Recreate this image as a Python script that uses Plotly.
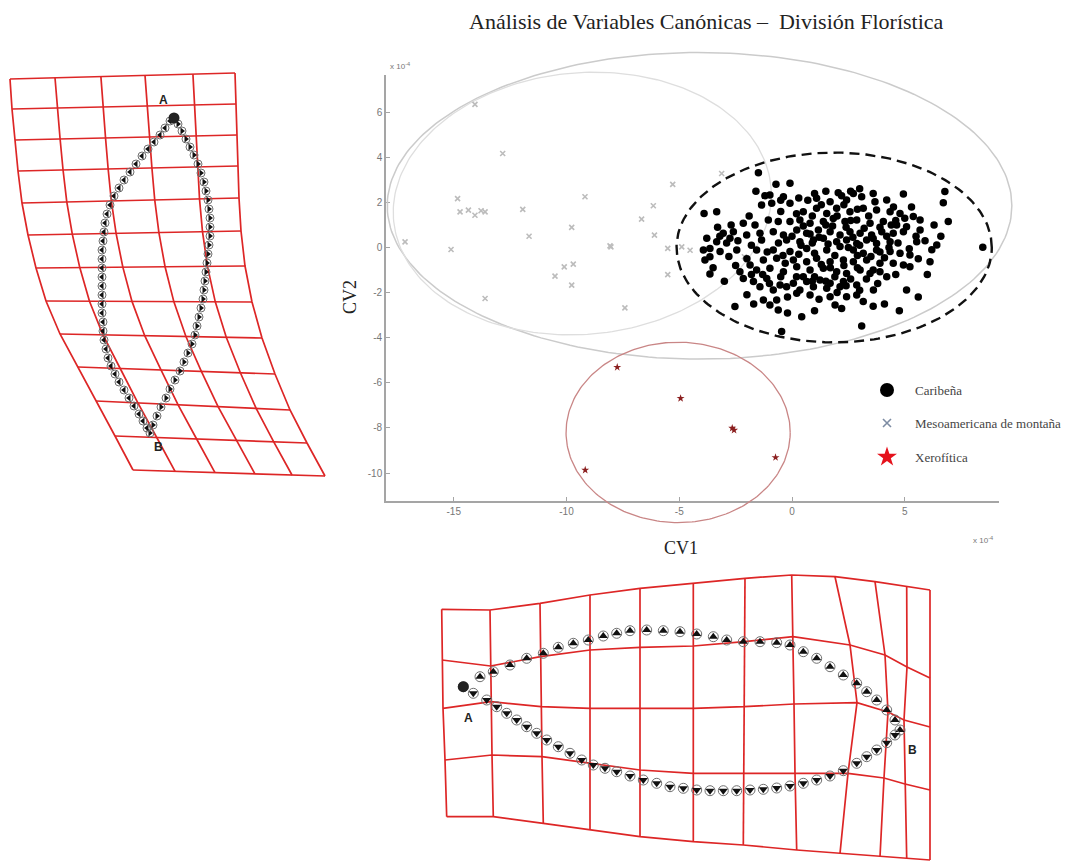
import numpy as np
import plotly.graph_objects as go

W, H = 1072, 863

# ---------------- DATA (CV scores, units of 1e-4) ----------------
carib_x = [-1.49, -0.71, -0.09, -0.98, -0.38, 2.05, 2.72, 4.94, 6.78, 6.71,
           1.09, 1.69, 2.42, 3.09, 3.68, 4.20, -3.90, -3.34, -1.35, -0.90,
           -0.09, 0.50, 1.09, 1.54, 1.98, 2.57, 3.16, 3.75, 4.35, 4.79,
           5.38, 5.68, 6.93, -2.16, -1.64, -1.05, -0.61, -0.09, 0.35, 0.80,
           1.39, 1.83, 2.35, 2.87, 3.46, 4.05, 4.64, 5.08, 5.68, -3.05,
           -2.60, -2.01, -1.42, -0.83, -0.38, 0.21, 0.65, 1.17, 1.69, 2.13,
           2.57, 3.02, 3.53, 3.98, 4.49, 4.94, -3.78, -3.34, -2.75, -1.35,
           -0.24, 0.35, 0.95, 1.39, 1.98, 2.42, 2.87, 3.31, 3.75, 4.35,
           5.53, 6.42, 8.46, -3.93, -3.64, -3.19, -2.45, -1.57, -0.83, -0.09,
           0.65, 1.54, 2.13, 2.72, 3.16, 3.75, 4.35, 4.79, 5.23, 6.12,
           -3.86, -1.86, -1.27, -0.68, 0.06, 0.65, 1.09, 1.69, 2.28, 2.72,
           3.31, 3.90, 4.49, 4.94, 5.23, -3.64, -2.31, -1.57, -0.98, -0.38,
           0.21, 0.80, 1.39, 1.98, 2.42, 3.02, 3.46, 3.90, -2.16, -1.71,
           -1.12, -0.53, 0.06, 0.65, 1.24, 1.69, 2.28, 2.87, -1.42, -0.83,
           -0.24, 0.35, 0.95, 1.54, 2.13, 3.61, 5.08, 0.21, 0.80, 1.69,
           2.42, 2.87, -1.27, -0.68, 3.16, -2.53, -0.98, -0.61, 1.91, 4.76,
           0.43, 3.09, -0.46, -3.64, 0.90, 1.30, 2.30, 2.90, 3.40, 0.20,
           -0.50, -1.90, 1.20, 1.80, 2.40, 2.70, 3.20, 3.90, 0.50, 0.00,
           -0.60, -1.80, -2.80, 1.00, 1.90, 2.30, 2.90, 3.50, 4.10, 1.30,
           0.30, -0.30, -1.30, 0.50, 1.00, 1.90, 2.60, 3.30, 2.00, 1.20,
           -0.20, 4.30, 4.60, 5.50, 2.20, 0.70, 3.60, 1.50, 2.60, -2.70,
           -3.30, 4.20, 4.10, 5.20, -2.00, -3.00, -2.40, -2.90, -3.50, -2.00,
           -1.10, -0.40, 0.40, 0.80, 1.50, 2.00, 2.60, 3.00, 3.60, 4.20,
           4.70, 5.00, 5.90, 6.30, 5.60, 4.60, 3.80, 3.00, 2.40, 1.50,
           0.90, 0.20, -0.50, -1.00, -1.80, -2.50, -3.20, 1.00, 0.30, -0.50,
           -1.20, 3.00, 4.50, 5.30, 6.00, 5.60, 3.60, 2.20, 1.00, -1.70,
           -0.20, 1.60, 2.50, 3.90, 0.90, 1.70, 2.90, 3.60, 4.40, -1.60,
           6.60, 6.20]
carib_y = [3.32, 2.80, 2.85, 2.33, 2.25, 2.43, 2.40, 2.37, 2.48, 1.99,
           2.18, 2.03, 2.11, 2.25, 2.03, 2.11, 1.51, 1.59, 1.88, 1.96,
           1.96, 1.59, 1.74, 1.51, 1.74, 1.59, 1.74, 1.66, 1.59, 1.51,
           1.37, 1.22, 1.15, 1.07, 1.00, 1.22, 1.15, 1.15, 1.22, 1.07,
           1.15, 1.29, 1.15, 1.22, 1.07, 1.15, 1.00, 0.92, 0.78, 0.63,
           0.70, 0.55, 0.63, 0.70, 0.55, 0.78, 0.63, 0.78, 0.70, 0.55,
           0.70, 0.63, 0.55, 0.70, 0.63, 0.70, 0.41, 0.26, 0.41, 0.33,
           0.33, 0.26, 0.33, 0.41, 0.26, 0.33, 0.18, 0.33, 0.18, 0.26,
           0.26, 0.11, 0.01, -0.11, -0.04, -0.18, -0.11, -0.11, -0.11, -0.18,
           -0.04, -0.11, 0.04, -0.11, -0.26, -0.11, -0.18, -0.26, -0.33, -0.63,
           -0.55, -0.78, -0.55, -0.48, -0.55, -0.63, -0.48, -0.63, -0.55, -0.63,
           -0.55, -0.70, -0.70, -0.78, -0.85, -1.18, -1.07, -1.00, -0.92, -1.07,
           -0.85, -1.00, -0.92, -1.07, -1.15, -1.00, -1.15, -1.07, -1.37, -1.51,
           -1.37, -1.66, -1.59, -1.51, -1.44, -1.59, -1.51, -1.66, -1.74, -1.88,
           -1.74, -1.88, -1.74, -1.81, -1.74, -1.88, -1.88, -2.03, -2.11, -2.18,
           -2.18, -2.11, -2.33, -2.33, -2.40, -2.62, -2.55, -2.77, -2.55, -2.80,
           -3.07, -3.48, -3.73, -0.41, 1.40, 1.90, 1.90, 1.70, 1.40, 1.50,
           1.60, 1.40, 0.45, 0.95, 0.90, 0.45, 0.85, 0.90, 0.95, 0.50,
           0.20, 0.10, -0.40, -0.25, -0.35, -0.80, -0.35, -0.40, -0.45, -0.75,
           -0.30, -0.70, -1.20, -1.30, -1.30, -1.30, -1.40, -1.40, -2.00, -2.30,
           -2.20, 0.00, 1.20, 0.50, 2.30, 2.10, 2.40, 2.50, 2.50, 1.00,
           0.90, -1.30, -2.50, -0.05, -2.10, -1.50, 0.30, 0.20, -0.90, -0.50,
           -0.20, -0.35, 0.10, 0.60, 1.00, 1.40, 1.20, 0.10, 0.40, 0.50,
           0.20, 1.30, 0.30, 1.00, -0.50, -1.20, -1.60, -1.90, -1.70, -1.50,
           -1.50, -1.30, -1.30, -1.60, -1.20, -0.80, 0.50, 2.40, 2.20, 2.10,
           2.30, 2.60, 1.80, 1.80, -1.20, -2.20, -2.60, -2.70, -2.80, -2.50,
           -2.90, 0.15, 0.00, -0.20, 0.20, -0.90, -0.90, -1.00, 1.00, 2.50,
           0.50, -0.10]

meso_x = [-14.06, -12.83, -14.83, -14.72, -14.35, -14.06, -13.79, -13.61, -11.94, -9.18,
          -9.77, -11.66, -17.16, -15.12, -8.07, -8.03, -13.61, -10.51, -10.10, -9.70,
          -9.77, -7.41, -6.15, -6.67, -5.29, -6.10, -5.51, -4.52, -5.51, -3.12,
          -4.89, -2.11]
meso_y = [6.35, 4.17, 2.17, 1.58, 1.66, 1.43, 1.63, 1.58, 1.69, 2.25,
          0.89, 0.50, 0.25, -0.09, 0.07, 0.03, -2.26, -1.27, -0.86, -0.74,
          -1.67, -2.68, 1.85, 1.26, 2.80, 0.55, -0.04, -0.12, -1.20, 3.28,
          0.03, -0.41]

xero_x = [-7.75, -4.94, -2.65, -2.57, -0.73, -9.17]
xero_y = [-5.31, -6.69, -8.01, -8.10, -9.31, -9.87]

# group ellipses: centre x, centre y, semi-axis x, semi-axis y, rotation (deg)
ell_outer = [-4.10, 1.85, 13.85, 6.80, 0.0]
ell_inner = [-9.30, 1.95, 8.40, 5.80, 5.0]
ell_carib = [1.87, 0.00, 6.99, 4.21, 0.0]
ell_xero = [-5.05, -8.20, 4.97, 4.00, 0.0]

x_ticks = [-15, -10, -5, 0, 5]
y_ticks = [-10, -8, -6, -4, -2, 0, 2, 4, 6]

legend_names = ["Caribeña", "Mesoamericana de montaña", "Xerofítica"]

# ---- deformation grid, lateral view (landmark space) ----
lg_row_y_left = [79, 109, 140, 171, 203, 235, 268, 301, 334, 367, 401, 436, 470]
lg_row_y_right = [73, 104, 135, 166, 198, 231, 266, 302, 338, 374, 410, 443, 476]
lg_row_x_left = [10, 12, 15, 18, 22, 28, 36, 46, 60, 78, 96, 115, 133]
lg_row_x_right = [235, 236, 237, 238, 239, 241, 245, 252, 262, 275, 290, 307, 325]
lg_col_frac_top = [0, 0.20, 0.404, 0.60, 0.813, 1]
lg_col_frac_bot = [0, 0.219, 0.427, 0.635, 0.828, 1]

lg_right_x = [174, 178, 182, 186, 190, 194, 198, 201, 204, 206, 208, 209, 210, 210, 210, 209, 208, 207, 206,
              205, 204, 203, 201, 199, 197, 195, 192, 188, 184, 180, 175, 170, 166, 161, 157, 153, 150]
lg_right_y = [118, 124, 131, 139, 147, 155, 164, 173, 182, 191, 200, 209, 218, 227, 236, 245, 254, 263, 272,
              281, 290, 299, 308, 317, 326, 335, 344, 353, 362, 371, 380, 389, 398, 407, 416, 425, 433]
lg_left_x = [170, 165, 160, 154, 148, 142, 136, 130, 124, 119, 114, 110, 107, 105, 104, 103, 102, 102, 102,
             102, 102, 102, 102, 102, 103, 103, 104, 106, 108, 111, 115, 119, 124, 129, 134, 139, 143, 147]
lg_left_y = [121, 128, 135, 142, 149, 156, 164, 172, 180, 188, 196, 205, 214, 223, 232, 241, 250, 259, 268,
             277, 286, 295, 304, 313, 322, 331, 340, 349, 358, 366, 374, 382, 390, 398, 406, 414, 421, 428]

# ---- deformation grid, dorsal view (landmark space) ----
bg_x = [
    [441.7, 490, 540, 590, 640, 693.3, 745, 791.7, 835, 875, 906.7, 930],
    [442, 490.5, 540.5, 590, 640, 693.3, 744.5, 793, 850, 885, 907, 930],
    [443, 491, 541, 590, 640, 693.3, 744, 794, 857, 888, 904, 930],
    [445, 492, 542, 590, 640, 693.3, 743.5, 795, 848, 884, 905, 930],
    [446.7, 493.3, 543.3, 590, 640, 693.3, 743.3, 796.7, 840, 880, 906.7, 930],
]
bg_y = [
    [609.3, 610, 603.3, 595, 588.3, 583.3, 578.3, 575, 576.7, 581.7, 586.7, 590],
    [660, 666, 656.7, 650, 647.3, 646, 641.7, 636.7, 645, 655, 667, 678],
    [708.3, 701.7, 706.7, 708.3, 708.3, 708.3, 706.7, 704, 702.7, 712, 720, 727],
    [760, 755, 756.7, 763.3, 770, 773.3, 773.3, 773.3, 773.3, 778, 784, 790],
    [816.7, 816.7, 823.3, 830, 836.7, 841.7, 845, 850, 853.3, 856.7, 858.3, 860],
]
bg_top_x = [463.3, 480, 493.3, 510, 526.7, 543.3, 558.3, 573.3, 588.3, 603.3, 616.7, 630, 646.7, 663.3,
            680, 696.7, 713.3, 726.7, 743.3, 760, 776.7, 790, 803.3, 816.7, 830, 843.3, 856.7, 866.7,
            876.7, 886.7, 895, 900]
bg_top_y = [686.7, 676.7, 671.7, 665, 658.3, 653.3, 647.3, 643.3, 640, 636, 633.3, 630.7, 630, 630.7,
            631.7, 634, 636.7, 640, 641.7, 641.7, 642.7, 645, 651.7, 658.3, 666.7, 675, 683.3, 691.7,
            700, 710, 720, 730]
bg_bot_x = [473.3, 486.7, 496.7, 506.7, 516.7, 526.7, 536.7, 546.7, 558.3, 570, 581.7, 593.3, 605, 616.7,
            630, 643.3, 656.7, 670, 683.3, 696.7, 710, 723.3, 736.7, 750, 763.3, 776.7, 790, 803.3,
            816.7, 830, 843.3, 856.7, 866.7, 876.7, 886.7, 895]
bg_bot_y = [693.3, 700, 706.7, 713.3, 720, 726.7, 733.3, 740, 746.7, 753.3, 760, 765, 768.3, 771.7,
            776, 780, 783.3, 786.7, 788.3, 790, 790.7, 790.7, 790.7, 790, 789.3, 788, 786, 783.3,
            780, 776, 770.7, 763.3, 756.7, 750, 742.7, 735]

# ---------------- GEOMETRY (layout in page pixels) ----------------
X0_PX, Y0_PX, PX_PER_UNIT = 792.0, 247.5, 22.55
AX_L, AX_R, AX_T, AX_B = 386, 999, 75, 501
BIG_L, BIG_R, BIG_T, BIG_B = 343, 1072, 0, 604


def dom_x(l, r):
    return [l / W, r / W]


def dom_y(t, b):
    return [1 - b / H, 1 - t / H]


def rng_x(l, r):
    return [(l - X0_PX) / PX_PER_UNIT, (r - X0_PX) / PX_PER_UNIT]


def rng_y(t, b):
    return [(Y0_PX - b) / PX_PER_UNIT, (Y0_PX - t) / PX_PER_UNIT]


def ellipse(p, n=240):
    cx, cy, rx, ry, ang = p
    t = np.linspace(0, 2 * np.pi, n)
    a = np.deg2rad(ang)
    ex = cx + rx * np.cos(t) * np.cos(a) - ry * np.sin(t) * np.sin(a)
    ey = cy + rx * np.cos(t) * np.sin(a) + ry * np.sin(t) * np.cos(a)
    return ex, ey


def grid_lines(xs, ys):
    lx, ly = [], []
    for r in range(len(xs)):
        lx += list(xs[r]) + [None]
        ly += list(ys[r]) + [None]
    for c in range(len(xs[0])):
        lx += [xs[r][c] for r in range(len(xs))] + [None]
        ly += [ys[r][c] for r in range(len(xs))] + [None]
    return lx, ly


# build lateral grid nodes from row end points and column fractions
lg_x, lg_y = [], []
nrow = len(lg_row_y_left)
for i in range(nrow):
    t = i / (nrow - 1)
    rx_, ry_ = [], []
    for ft, fb in zip(lg_col_frac_top, lg_col_frac_bot):
        f = ft * (1 - t) + fb * t
        rx_.append(lg_row_x_left[i] + f * (lg_row_x_right[i] - lg_row_x_left[i]))
        ry_.append(lg_row_y_left[i] + f * (lg_row_y_right[i] - lg_row_y_left[i]))
    lg_x.append(rx_)
    lg_y.append(ry_)

SERIF = "Liberation Serif, Times New Roman, serif"
SANS = "Liberation Sans, Arial, sans-serif"
GRID_RED = "#dd2626"

fig = go.Figure()

# main axes (only axes lines & ticks)
fig.add_trace(go.Scatter(x=[0], y=[0], mode="markers", marker=dict(opacity=0),
                         hoverinfo="skip", xaxis="x", yaxis="y", showlegend=False))

# big overlay subplot with same scale (lets ellipses run outside the axes box)
for p, col, w, dash in [(ell_outer, "#cbcbcb", 1.5, "solid"),
                        (ell_inner, "#dedede", 1.3, "solid"),
                        (ell_xero, "#c98686", 1.3, "solid"),
                        (ell_carib, "#111111", 2.4, "10px,6px")]:
    ex, ey = ellipse(p)
    fig.add_trace(go.Scatter(x=ex, y=ey, mode="lines", line=dict(color=col, width=w, dash=dash),
                             hoverinfo="skip", xaxis="x2", yaxis="y2", showlegend=False))

fig.add_trace(go.Scatter(x=meso_x, y=meso_y, mode="markers", name=legend_names[1],
                         marker=dict(symbol="x-thin", size=5, line=dict(color="#bcbcbc", width=1.6)),
                         xaxis="x2", yaxis="y2", showlegend=False))
fig.add_trace(go.Scatter(x=xero_x, y=xero_y, mode="markers", name=legend_names[2],
                         marker=dict(symbol="star", size=6, color="#8b1f1f"),
                         xaxis="x2", yaxis="y2", showlegend=False))
fig.add_trace(go.Scatter(x=carib_x, y=carib_y, mode="markers", name=legend_names[0],
                         marker=dict(symbol="circle", size=7.5, color="#000000"),
                         xaxis="x2", yaxis="y2", showlegend=False))

# ---- canvas subplot for the deformation grids and legend ----
gx, gy = grid_lines(lg_x, lg_y)
fig.add_trace(go.Scatter(x=gx, y=gy, mode="lines", line=dict(color=GRID_RED, width=1.7),
                         hoverinfo="skip", xaxis="x3", yaxis="y3", showlegend=False))
gx, gy = grid_lines(bg_x, bg_y)
fig.add_trace(go.Scatter(x=gx, y=gy, mode="lines", line=dict(color=GRID_RED, width=1.7),
                         hoverinfo="skip", xaxis="x3", yaxis="y3", showlegend=False))

for xs, ys, sym, cs, ts in [(lg_right_x, lg_right_y, "triangle-right", 8, 6),
                            (lg_left_x, lg_left_y, "triangle-left", 8, 6),
                            (bg_top_x, bg_top_y, "triangle-up", 10, 8),
                            (bg_bot_x, bg_bot_y, "triangle-down", 10, 8)]:
    fig.add_trace(go.Scatter(x=xs, y=ys, mode="markers",
                             marker=dict(symbol="circle-open", size=cs, color="#707070", line=dict(width=1)),
                             hoverinfo="skip", xaxis="x3", yaxis="y3", showlegend=False))
    fig.add_trace(go.Scatter(x=xs, y=ys, mode="markers",
                             marker=dict(symbol=sym, size=ts, color="#111111"),
                             hoverinfo="skip", xaxis="x3", yaxis="y3", showlegend=False))

# landmark ends A (dark blobs)
fig.add_trace(go.Scatter(x=[lg_right_x[0], bg_top_x[0]], y=[lg_right_y[0], bg_top_y[0]],
                         mode="markers", marker=dict(size=11, color="#222"),
                         hoverinfo="skip", xaxis="x3", yaxis="y3", showlegend=False))

# manual legend
leg_y = [390, 423, 457]
fig.add_trace(go.Scatter(x=[887], y=[leg_y[0]], mode="markers",
                         marker=dict(symbol="circle", size=14, color="#000"),
                         xaxis="x3", yaxis="y3", showlegend=False, hoverinfo="skip"))
fig.add_trace(go.Scatter(x=[887], y=[leg_y[1]], mode="markers",
                         marker=dict(symbol="x-thin", size=8, line=dict(color="#7d8ca3", width=1.6)),
                         xaxis="x3", yaxis="y3", showlegend=False, hoverinfo="skip"))
fig.add_trace(go.Scatter(x=[887], y=[leg_y[2]], mode="markers",
                         marker=dict(symbol="star", size=15, color="#e5121c"),
                         xaxis="x3", yaxis="y3", showlegend=False, hoverinfo="skip"))

ann = []
for name, yy in zip(legend_names, leg_y):
    ann.append(dict(x=913, y=yy, xref="x3", yref="y3", text=name, showarrow=False,
                    xanchor="left", yanchor="middle", font=dict(family=SERIF, size=13, color="#444")))
bold = dict(family=SANS, size=12, color="#222", weight="bold")
ann += [
    dict(x=706, y=21, xref="x3", yref="y3", text="Análisis de Variables Canónicas –  División Florística",
         showarrow=False, xanchor="center", yanchor="middle", font=dict(family=SERIF, size=22, color="#222")),
    dict(x=681, y=548, xref="x3", yref="y3", text="CV1", showarrow=False,
         xanchor="center", yanchor="middle", font=dict(family=SERIF, size=18, color="#222")),
    dict(x=350, y=297, xref="x3", yref="y3", text="CV2", showarrow=False, textangle=-90,
         xanchor="center", yanchor="middle", font=dict(family=SERIF, size=18, color="#222")),
    dict(x=388, y=66, xref="x3", yref="y3", text="x 10<sup>-4</sup>", showarrow=False,
         xanchor="left", yanchor="middle", font=dict(family=SANS, size=8, color="#777")),
    dict(x=995, y=540, xref="x3", yref="y3", text="x 10<sup>-4</sup>", showarrow=False,
         xanchor="right", yanchor="middle", font=dict(family=SANS, size=8, color="#777")),
    dict(x=163, y=100, xref="x3", yref="y3", text="A", showarrow=False, font=bold),
    dict(x=158, y=447, xref="x3", yref="y3", text="B", showarrow=False, font=bold),
    dict(x=468, y=718, xref="x3", yref="y3", text="A", showarrow=False, font=bold),
    dict(x=912, y=750, xref="x3", yref="y3", text="B", showarrow=False, font=bold),
]

axis_common = dict(showline=True, linecolor="#a5a5a5", linewidth=1.6, ticks="inside", ticklen=4,
                   tickcolor="#a5a5a5", tickwidth=1, showgrid=False, zeroline=False,
                   tickfont=dict(family=SANS, size=10, color="#777"), fixedrange=True)

fig.update_layout(
    width=W, height=H, margin=dict(l=0, r=0, t=0, b=0),
    paper_bgcolor="white", plot_bgcolor="rgba(0,0,0,0)", showlegend=False,
    xaxis=dict(domain=dom_x(AX_L, AX_R), range=rng_x(AX_L, AX_R), anchor="y",
               tickvals=x_ticks, ticktext=[str(v) for v in x_ticks], **axis_common),
    yaxis=dict(domain=dom_y(AX_T, AX_B), range=rng_y(AX_T, AX_B), anchor="x",
               tickvals=y_ticks, ticktext=[str(v) for v in y_ticks], **axis_common),
    xaxis2=dict(domain=dom_x(BIG_L, BIG_R), range=rng_x(BIG_L, BIG_R), anchor="y2", visible=False,
                fixedrange=True),
    yaxis2=dict(domain=dom_y(BIG_T, BIG_B), range=rng_y(BIG_T, BIG_B), anchor="x2", visible=False,
                fixedrange=True),
    xaxis3=dict(domain=[0, 1], range=[0, W], anchor="y3", visible=False, fixedrange=True),
    yaxis3=dict(domain=[0, 1], range=[H, 0], anchor="x3", visible=False, fixedrange=True),
    annotations=ann,
)

fig.write_html("out.html")
